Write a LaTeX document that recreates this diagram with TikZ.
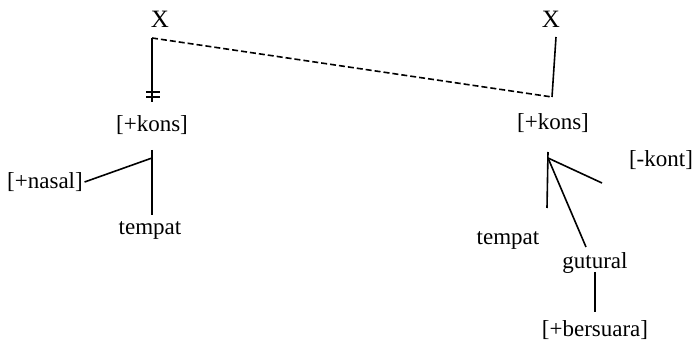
\documentclass[tikz,border=0pt]{standalone}
\usepackage{fontspec}
\setmainfont{Liberation Serif}
\begin{document}
\begin{tikzpicture}[x=1pt,y=-1pt,line width=1.6pt,
    feat/.style={inner sep=1pt,font=\fontsize{23}{27}\selectfont},
    slot/.style={inner sep=1pt,font=\fontsize{25}{29}\selectfont}]
    \useasboundingbox (0,0) rectangle (697,347);
    % left tree
    \node[slot] (xl) at (160,19) {X};
    \node[feat] (kl) at (152,125) {[+kons]};
    \node[feat] (nasal) at (45,182) {[+nasal]};
    \node[feat] (tl) at (150,230) {tempat};
    \coordinate (lt) at (152,38);
    \coordinate (lb) at (152,102);
    \coordinate (lv) at (152,150);
    \coordinate (lj) at (152,158);
    \coordinate (le) at (152,215);
    \draw (lt) -- (lb);
    \draw (146,92) -- ++(14,0) (146,97) -- ++(14,0);
    \draw (lv) -- (le);
    \draw (nasal.east) -- (lj);
    % right tree
    \node[slot] (xr) at (551,19) {X};
    \node[feat] (kr) at (553,123) {[+kons]};
    \node[feat] (kont) at (661,160) {[-kont]};
    \node[feat] (tr) at (508,240) {tempat};
    \node[feat] (gut) at (595,263) {gutural};
    \node[feat] (bers) at (595,330) {[+bersuara]};
    \coordinate (rt) at (556,37);
    \coordinate (rb) at (552,97);
    \coordinate (rv) at (548,152);
    \coordinate (rj) at (548,158);
    \coordinate (re) at (547,208);
    \coordinate (ke) at (602,183);
    \coordinate (ge) at (586,247);
    \coordinate (gb) at (595,272);
    \coordinate (be) at (595,312);
    \draw (rt) -- (rb);
    \draw (rv) -- (re);
    \draw (rj) -- (ke);
    \draw (rj) -- (ge);
    \draw (gb) -- (be);
    % association line
    \draw[dash pattern=on 6pt off 3pt] (lt) -- (rb);
\end{tikzpicture}
\end{document}
